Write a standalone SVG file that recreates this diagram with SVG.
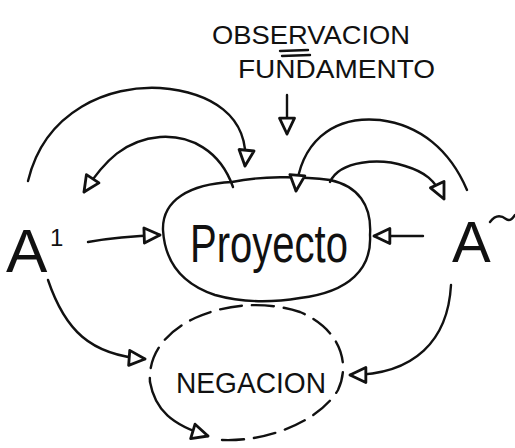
<svg xmlns="http://www.w3.org/2000/svg" width="515" height="448" viewBox="0 0 515 448">
<style>
.s{fill:none;stroke:#111;stroke-width:2.4;stroke-linecap:round;stroke-linejoin:round}
.t{font-family:"Liberation Sans",Arial,sans-serif;fill:#111}
</style>
<defs>
<marker id="ah" viewBox="0 0 12 12" refX="11" refY="6" markerWidth="20" markerHeight="20" markerUnits="userSpaceOnUse" orient="auto">
<path d="M1.5,1.5 L11,6 L1.5,10.5 Z" fill="#fff" stroke="#111" stroke-width="1.7" stroke-linejoin="round"/>
</marker>
</defs>
<rect width="515" height="448" fill="#fff"/>
<g id="observacion">
<text class="t" x="212" y="44" font-size="26" textLength="198" lengthAdjust="spacingAndGlyphs">OBSERVACION</text>
<path class="s" d="M280,51 L308,50 M282,56 L310,55"/>
<text class="t" x="238" y="78" font-size="26" textLength="197" lengthAdjust="spacingAndGlyphs">FUNDAMENTO</text>
</g>
<g id="proyecto">
<path class="s" d="M232,182 C260,176 300,176 330,180 C358,186 372,205 370,235 C372,268 350,292 300,298 C270,303 240,302 215,295 C185,285 165,265 163,230 C162,200 190,184 232,182 Z"/>
<text class="t" x="190" y="262" font-size="54" textLength="158" lengthAdjust="spacingAndGlyphs">Proyecto</text>
</g>
<g id="negacion">
<path class="s" stroke-dasharray="22,10" d="M222,440 C270,442 320,420 338,390 C350,365 342,330 300,312 C270,302 230,302 195,318 C165,332 148,355 150,382"/>
<text class="t" x="176" y="393" font-size="30" textLength="150" lengthAdjust="spacingAndGlyphs">NEGACION</text>
</g>
<g id="a1">
<text class="t" x="6" y="272" font-size="62">A</text>
<text class="t" x="50" y="246" font-size="24">1</text>
</g>
<g id="a2">
<text class="t" x="452" y="262" font-size="58">A</text>
<path class="s" d="M490,222 C496,214 502,216 506,219 C510,222 513,218 515,215"/>
</g>
<g id="connectors">
<path class="s" marker-end="url(#ah)" d="M287,95 L287,134"/>
<path class="s" marker-end="url(#ah)" d="M88,242 C110,238 130,236 160,235"/>
<path class="s" marker-end="url(#ah)" d="M423,236 C410,236 395,236 374,236"/>
<path class="s" marker-end="url(#ah)" d="M28,181 C45,110 110,85 160,88 C210,92 250,115 245,166"/>
<path class="s" marker-end="url(#ah)" d="M233,187 C220,150 190,135 160,137 C125,140 105,160 84,192"/>
<path class="s" marker-end="url(#ah)" d="M467,190 C450,150 420,125 380,120 C330,115 300,145 296,191"/>
<path class="s" marker-end="url(#ah)" d="M330,182 C340,160 380,158 405,166 C425,172 435,180 444,199"/>
<path class="s" marker-end="url(#ah)" d="M48,280 C65,330 90,355 145,359"/>
<path class="s" marker-end="url(#ah)" d="M451,285 C448,340 415,375 350,375"/>
<path class="s" marker-end="url(#ah)" d="M150,382 C155,410 172,425 208,436"/>
</g>
</svg>
